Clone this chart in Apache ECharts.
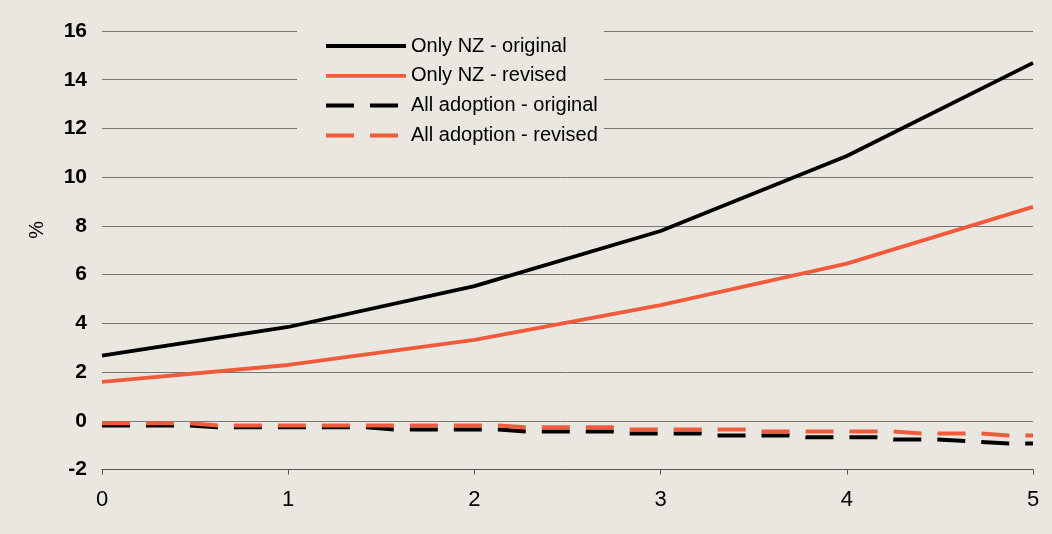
<!DOCTYPE html>
<html>
<head>
<meta charset="utf-8">
<script src="https://cdn.jsdelivr.net/npm/echarts@6/dist/echarts.min.js"></script>
<style>
  html, body { margin: 0; padding: 0; background: #EAE7E0; }
  #chart { width: 1052px; height: 534px; }
</style>
</head>
<body>
<div id="chart"></div>
<script>
// ---- data ----
var seriesNames = ['Only NZ - original', 'Only NZ - revised', 'All adoption - original', 'All adoption - revised'];
var yTicks = { min: -2, max: 16, interval: 2 };
var xTicks = { min: 0, max: 5, interval: 1 };

var onlyNZOriginal = [[0, 2.67], [1, 3.85], [2, 5.53], [3, 7.79], [4, 10.87], [5, 14.69]];
var onlyNZRevised  = [[0, 1.6], [1, 2.29], [2, 3.32], [3, 4.75], [4, 6.45], [5, 8.78]];
var allAdoptionOriginal = [[0, -0.19], [0.47, -0.19], [0.62, -0.27], [1.42, -0.27], [1.57, -0.36],
  [2.13, -0.36], [2.28, -0.44], [2.74, -0.44], [2.83, -0.52], [3.22, -0.52], [3.3, -0.6],
  [3.69, -0.6], [3.78, -0.68], [4.16, -0.68], [4.25, -0.77], [4.48, -0.77], [4.87, -0.93], [5, -0.93]];
var allAdoptionRevised = [[0, -0.1], [0.47, -0.1], [0.62, -0.19], [2.13, -0.19], [2.28, -0.27],
  [2.74, -0.27], [2.83, -0.36], [3.46, -0.36], [3.54, -0.44], [4.25, -0.44], [4.4, -0.52],
  [4.72, -0.52], [4.87, -0.6], [5, -0.6]];

var BLACK = '#000000';
var RED = '#F15A3B';
var FONT = "'Liberation Sans', Arial, sans-serif";

var chart = echarts.init(document.getElementById('chart'));
chart.setOption({
  animation: false,
  backgroundColor: '#EAE7E0',
  textStyle: { fontFamily: FONT },
  grid: { left: 102, right: 19, top: 31, bottom: 64.5, containLabel: false },
  xAxis: {
    type: 'value', min: xTicks.min, max: xTicks.max, interval: xTicks.interval,
    axisLine: { show: true, onZero: false, lineStyle: { color: '#555555', width: 1 } },
    axisTick: { show: true, length: 5, lineStyle: { color: '#555555' } },
    axisLabel: { color: '#000', fontSize: 22, margin: 19, fontFamily: FONT },
    splitLine: { show: false }
  },
  yAxis: {
    type: 'value', min: yTicks.min, max: yTicks.max, interval: yTicks.interval,
    axisLine: { show: false, onZero: false },
    axisTick: { show: false },
    axisLabel: { color: '#000', fontSize: 21, fontWeight: 'bold', margin: 15, fontFamily: FONT },
    splitLine: { show: true, lineStyle: { color: '#767676', width: 1 } }
  },
  graphic: [{
    type: 'text', left: 27, top: 221, rotation: Math.PI / 2,
    style: { text: '%', font: "20px " + FONT, fill: '#000' }
  }],
  legend: {
    orient: 'vertical', left: 297, top: 22,
    padding: [14, 6, 8, 27],
    backgroundColor: '#EAE7E0',
    itemWidth: 80, itemHeight: 20, itemGap: 9.8,
    itemStyle: { opacity: 0 },
    lineStyle: { width: 'inherit', type: 'inherit' },
    textStyle: { fontSize: 20, color: '#000', fontFamily: FONT },
    data: seriesNames
  },
  series: [
    { name: seriesNames[0], type: 'line', data: onlyNZOriginal, symbol: 'none',
      lineStyle: { color: BLACK, width: 3.8 }, itemStyle: { color: BLACK } },
    { name: seriesNames[1], type: 'line', data: onlyNZRevised, symbol: 'none',
      lineStyle: { color: RED, width: 3.8 }, itemStyle: { color: RED } },
    { name: seriesNames[2], type: 'line', data: allAdoptionOriginal, symbol: 'none',
      lineStyle: { color: BLACK, width: 4, type: [28, 16] }, itemStyle: { color: BLACK } },
    { name: seriesNames[3], type: 'line', data: allAdoptionRevised, symbol: 'none',
      lineStyle: { color: RED, width: 4, type: [28, 16] }, itemStyle: { color: RED } }
  ]
});
</script>
</body>
</html>
